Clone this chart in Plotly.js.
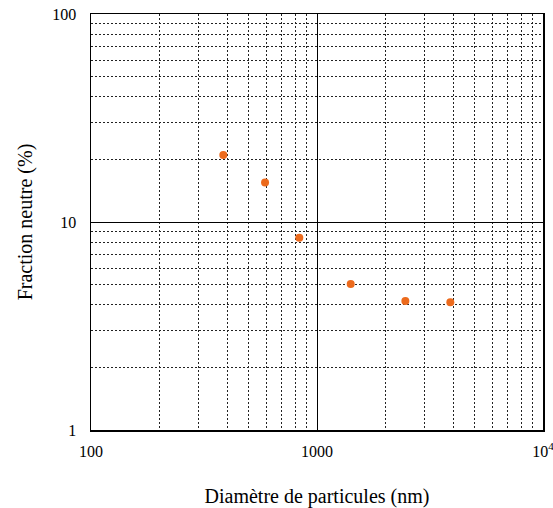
<!DOCTYPE html>
<html>
<head>
<meta charset="utf-8">
<script src="https://cdn.plot.ly/plotly-3.0.1.min.js"></script>
<style>html,body{margin:0;padding:0;background:#fff}#chart{width:553px;height:508px}</style>
</head>
<body>
<div id="chart"></div>
<script>
const diameters = [385, 589, 835, 1410, 2460, 3890];
const fractions = [21.0, 15.5, 8.4, 5.03, 4.17, 4.11];
const xTickVals = [100, 1000, 10000];
const xTickText = ['100', '1000', '10<sup>4</sup>'];
const yTickVals = [1, 10, 100];
const yTickText = ['1', '10', '100'];

const family = 'Liberation Serif, Times New Roman, serif';
const tickFont = {family: family, size: 16, color: '#000'};
const titleFont = {family: family, size: 20, color: '#000'};

const trace = {
  x: diameters, y: fractions, type: 'scatter', mode: 'markers',
  marker: {color: '#ec6a1c', size: 8},
  showlegend: false, cliponaxis: false
};

const minor = {showgrid: true, gridcolor: '#222', gridwidth: 1, griddash: '2px,2px', ticks: ''};

const layout = {
  width: 553, height: 508,
  margin: {l: 91, r: 10, t: 14, b: 78},
  paper_bgcolor: '#fff', plot_bgcolor: '#fff',
  font: tickFont,
  xaxis: {
    type: 'log', range: [2, 4],
    tickmode: 'array', tickvals: xTickVals, ticktext: xTickText,
    showgrid: true, gridcolor: '#000', gridwidth: 1,
    minor: Object.assign({dtick: 'D1'}, minor),
    showline: true, linecolor: '#000', linewidth: 1.5, mirror: true,
    ticks: '', ticklabelstandoff: 6, ticklabeloverflow: 'allow', zeroline: false, tickfont: tickFont,
    title: {text: 'Diamètre de particules (nm)', font: titleFont, standoff: 30}
  },
  yaxis: {
    type: 'log', range: [0, 2],
    tickmode: 'array', tickvals: yTickVals, ticktext: yTickText,
    showgrid: true, gridcolor: '#000', gridwidth: 1,
    minor: Object.assign({dtick: 'D1'}, minor),
    showline: true, linecolor: '#000', linewidth: 1.5, mirror: true,
    ticks: '', ticklabelstandoff: 10, ticklabeloverflow: 'allow', zeroline: false, tickfont: tickFont,
    title: {text: 'Fraction neutre (%)', font: titleFont, standoff: 14}
  }
};

Plotly.newPlot('chart', [trace], layout, {displayModeBar: false, staticPlot: true});
</script>
</body>
</html>
